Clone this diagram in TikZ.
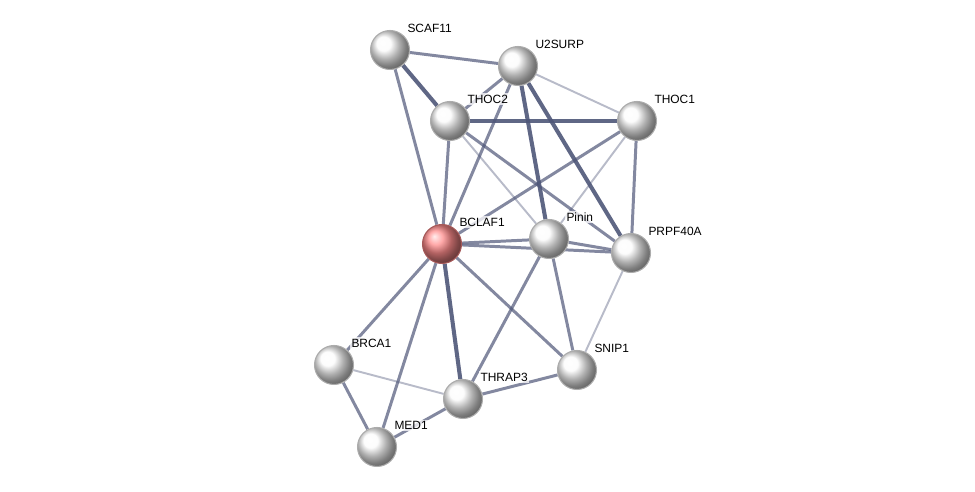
\documentclass[tikz,border=0pt]{standalone}
\usepackage{fontspec}
\setmainfont{Liberation Sans}
\usetikzlibrary{positioning,shadings,backgrounds}

\definecolor{edgeblue}{RGB}{78,86,120}

\tikzset{
    protein/.style={circle, minimum size=0.78cm, inner sep=0pt, draw=gray!65, line width=0.6pt,
        shading=ball, ball color=gray!3},
    query/.style={protein, ball color=red!45!white, draw=red!30!gray},
    lbl/.style={font=\fontsize{6.8}{8}\selectfont, text=black, inner sep=1pt, label distance=1,
        fill=white, fill opacity=0.75, text opacity=1},
    edgestrong/.style={draw=edgeblue, line width=2.3pt, opacity=0.9},
    edgemid/.style={draw=edgeblue, line width=1.7pt, opacity=0.7},
    edgeweak/.style={draw=edgeblue, line width=1.1pt, opacity=0.4}
}

\begin{document}
\begin{tikzpicture}[x=0.02cm, y=-0.02cm]
    \useasboundingbox (0,0) rectangle (975,492);

    % Proteins
    \node[protein, label={[lbl]45:SCAF11}] (scaf11) at (390,50) {};
    \node[protein, label={[lbl]45:U2SURP}] (u2surp) at (518,66) {};
    \node[protein, label={[lbl]45:THOC2}] (thoc2) at (450,121) {};
    \node[protein, label={[lbl]45:THOC1}] (thoc1) at (637,121) {};
    \node[query, label={[lbl]45:BCLAF1}] (bclaf1) at (442,244) {};
    \node[protein, label={[lbl]45:Pinin}] (pinin) at (549,239) {};
    \node[protein, label={[lbl]45:PRPF40A}] (prpf40a) at (631,253) {};
    \node[protein, label={[lbl]45:BRCA1}] (brca1) at (334,365) {};
    \node[protein, label={[lbl]45:SNIP1}] (snip1) at (577,370) {};
    \node[protein, label={[lbl]45:THRAP3}] (thrap3) at (463,399) {};
    \node[protein, label={[lbl]45:MED1}] (med1) at (377,447) {};

    % Interactions
    \begin{scope}[on background layer]
    \draw[edgestrong] (scaf11) -- (thoc2);
    \draw[edgestrong] (thoc2) -- (thoc1);
    \draw[edgestrong] (u2surp) -- (prpf40a);
    \draw[edgestrong] (bclaf1) -- (thrap3);
    \draw[edgestrong] (u2surp) -- (pinin);

    \draw[edgemid] (scaf11) -- (u2surp);
    \draw[edgemid] (scaf11) -- (bclaf1);
    \draw[edgemid] (u2surp) -- (thoc2);
    \draw[edgemid] (u2surp) -- (bclaf1);
    \draw[edgemid] (thoc2) -- (bclaf1);
    \draw[edgemid] (thoc2) -- (prpf40a);
    \draw[edgemid] (thoc1) -- (bclaf1);
    \draw[edgemid] (thoc1) -- (prpf40a);
    \draw[edgemid] (bclaf1) -- (pinin);
    \draw[edgemid] (bclaf1) -- (prpf40a);
    \draw[edgemid] (bclaf1) -- (brca1);
    \draw[edgemid] (bclaf1) -- (med1);
    \draw[edgemid] (bclaf1) -- (snip1);
    \draw[edgemid] (pinin) -- (prpf40a);
    \draw[edgemid] (pinin) -- (snip1);
    \draw[edgemid] (pinin) -- (thrap3);
    \draw[edgemid] (brca1) -- (med1);
    \draw[edgemid] (med1) -- (thrap3);
    \draw[edgemid] (thrap3) -- (snip1);

    \draw[edgeweak] (u2surp) -- (thoc1);
    \draw[edgeweak] (thoc2) -- (pinin);
    \draw[edgeweak] (thoc1) -- (pinin);
    \draw[edgeweak] (prpf40a) -- (snip1);
    \draw[edgeweak] (brca1) -- (thrap3);
    \end{scope}
\end{tikzpicture}
\end{document}
